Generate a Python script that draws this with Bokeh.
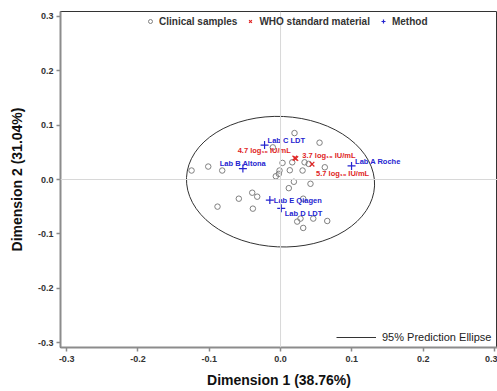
from bokeh.plotting import figure
from bokeh.models import Span, Legend, LegendItem, FixedTicker, ColumnDataSource
from bokeh.core.properties import value
from bokeh.embed import file_html
from bokeh.resources import INLINE

# ---- data ----
clin_x = [0.0196, 0.0547, -0.0108, -0.1248, -0.1014, -0.0818, 0.0028, 0.0164, 0.0337, 0.0395,
          0.0621, 0.0130, 0.0309, -0.0014, -0.0024, -0.0066, 0.0187, 0.0420, 0.0116, -0.0397,
          -0.0327, -0.0585, -0.0884, -0.0388, 0.0318, 0.0280, 0.0234, 0.0459, 0.0655, 0.0318]
clin_y = [0.0854, 0.0677, 0.0591, 0.0165, 0.0238, 0.0165, 0.0305, 0.0316, 0.0316, 0.0287,
          0.0225, 0.0170, 0.0165, 0.0165, 0.0104, 0.0060, -0.0042, -0.0079, -0.0159, -0.0243,
          -0.0316, -0.0353, -0.0499, -0.0536, -0.0353, -0.0719, -0.0774, -0.0719, -0.0763, -0.0891]

who_labels = ["4.7 log\u2081\u2080 IU/mL", "3.7 log\u2081\u2080 IU/mL", "5.7 log\u2081\u2080 IU/mL"]
who_x = [0.0200, 0.0215, 0.0442]
who_y = [0.0395, 0.0385, 0.0282]

method_labels = ["Lab A Roche", "Lab B Altona", "Lab C LDT", "Lab D LDT", "Lab E Qiagen"]
method_x = [0.0996, -0.0528, -0.0224, 0.0010, -0.0150]
method_y = [0.0250, 0.0201, 0.0634, -0.0530, -0.0379]

ellipse_center = (0.0, -0.004)
ellipse_size = (0.264, 0.240)
ellipse_angle = -0.045

ticks = [-0.3, -0.2, -0.1, 0.0, 0.1, 0.2, 0.3]
tick_labels = ["-0.3", "-0.2", "-0.1", "0.0", "0.1", "0.2", "0.3"]

FONT = "Liberation Sans"
GREY = "#808080"
RED = "#e02424"
BLUE = "#2424d0"

p = figure(width=497, height=390, x_range=(-0.3086, 0.3043), y_range=(-0.309, 0.309),
           output_backend="svg", toolbar_location=None,
           min_border_left=60, min_border_right=0, min_border_top=11, min_border_bottom=41)
p.grid.visible = False
p.outline_line_color = "#333333"
p.outline_line_width = 1

for ax in (p.xaxis[0], p.yaxis[0]):
    ax.ticker = FixedTicker(ticks=ticks)
    ax.major_label_overrides = {t: l for t, l in zip(ticks, tick_labels)}
    ax.axis_line_color = "#8c8c8c"
    ax.axis_line_width = 2
    ax.major_tick_line_color = "#8c8c8c"
    ax.major_tick_line_width = 1.5
    ax.major_tick_out = 4
    ax.major_tick_in = 0
    ax.minor_tick_line_color = None
    ax.major_label_text_font = FONT
    ax.major_label_text_font_size = "9px"
    ax.major_label_text_font_style = "bold"
    ax.major_label_text_color = "#333333"
    ax.axis_label_text_font = FONT
    ax.axis_label_text_font_size = "14px"
    ax.axis_label_text_font_style = "bold"
    ax.axis_label_text_color = "#111111"

p.xaxis.axis_label = "Dimension 1 (38.76%)"
p.yaxis.axis_label = "Dimension 2 (31.04%)"
p.xaxis.major_label_standoff = 4
p.yaxis.major_label_standoff = 3
p.xaxis.axis_label_standoff = 7
p.yaxis.axis_label_standoff = 10

p.add_layout(Span(location=0, dimension="height", line_color="#d8d8d8", line_width=1))
p.add_layout(Span(location=0, dimension="width", line_color="#d8d8d8", line_width=1))

p.ellipse(x=[ellipse_center[0]], y=[ellipse_center[1]], width=ellipse_size[0],
          height=ellipse_size[1], angle=ellipse_angle, fill_color=None,
          line_color="#333333", line_width=1)
# legend proxy for the ellipse outline (a single-point line draws nothing in the plot)
r_ell_leg = p.line(x=[ellipse_center[0]], y=[ellipse_center[1]], line_color="#333333",
                   line_width=1)

r_clin = p.scatter(clin_x, clin_y, marker="circle", size=5.5, fill_color=None,
                   line_color=GREY, line_width=1)
r_who = p.scatter(who_x, who_y, marker="x", size=6.5, line_color=RED, line_width=1.2)
r_met = p.scatter(method_x, method_y, marker="cross", size=8, line_color=BLUE, line_width=1.2)

who_src = ColumnDataSource(dict(x=who_x, y=who_y, t=who_labels,
                                xo=[-4, 6.5, 4], yo=[-7.5, -3.5, 9],
                                al=["right", "left", "left"]))
p.text(x="x", y="y", text="t", x_offset="xo", y_offset="yo", text_align="al",
       text_baseline="middle", text_font=value(FONT), text_font_size="7.5px",
       text_font_style="bold", text_color=RED, source=who_src)

met_src = ColumnDataSource(dict(x=method_x, y=method_y, t=method_labels,
                                xo=[3.5, 0, 3, 3.5, 4], yo=[-4, -5, -4.5, 5.5, 0],
                                al=["left", "center", "left", "left", "left"]))
p.text(x="x", y="y", text="t", x_offset="xo", y_offset="yo", text_align="al",
       text_baseline="middle", text_font=value(FONT), text_font_size="7.5px",
       text_font_style="bold", text_color=BLUE, source=met_src)

leg1 = Legend(items=[LegendItem(label="Clinical samples", renderers=[r_clin]),
                     LegendItem(label="WHO standard material", renderers=[r_who]),
                     LegendItem(label="Method", renderers=[r_met])],
              orientation="horizontal", location=(85, 320),
              glyph_width=10, glyph_height=12, label_height=12, label_standoff=4,
              spacing=8, padding=0, margin=0, border_line_color=None,
              background_fill_alpha=0, label_text_font=FONT, label_text_font_size="10px",
              label_text_font_style="bold", label_text_color="#333333")
p.add_layout(leg1, "center")

leg2 = Legend(items=[LegendItem(label="95% Prediction Ellipse", renderers=[r_ell_leg])],
              location=(276, 4), glyph_width=40, glyph_height=12, label_height=12,
              label_standoff=6, padding=0, margin=0, border_line_color=None,
              background_fill_alpha=0, label_text_font=FONT, label_text_font_size="11px",
              label_text_color="#222222")
p.add_layout(leg2, "center")

open("out.html", "w").write(file_html(p, INLINE))
